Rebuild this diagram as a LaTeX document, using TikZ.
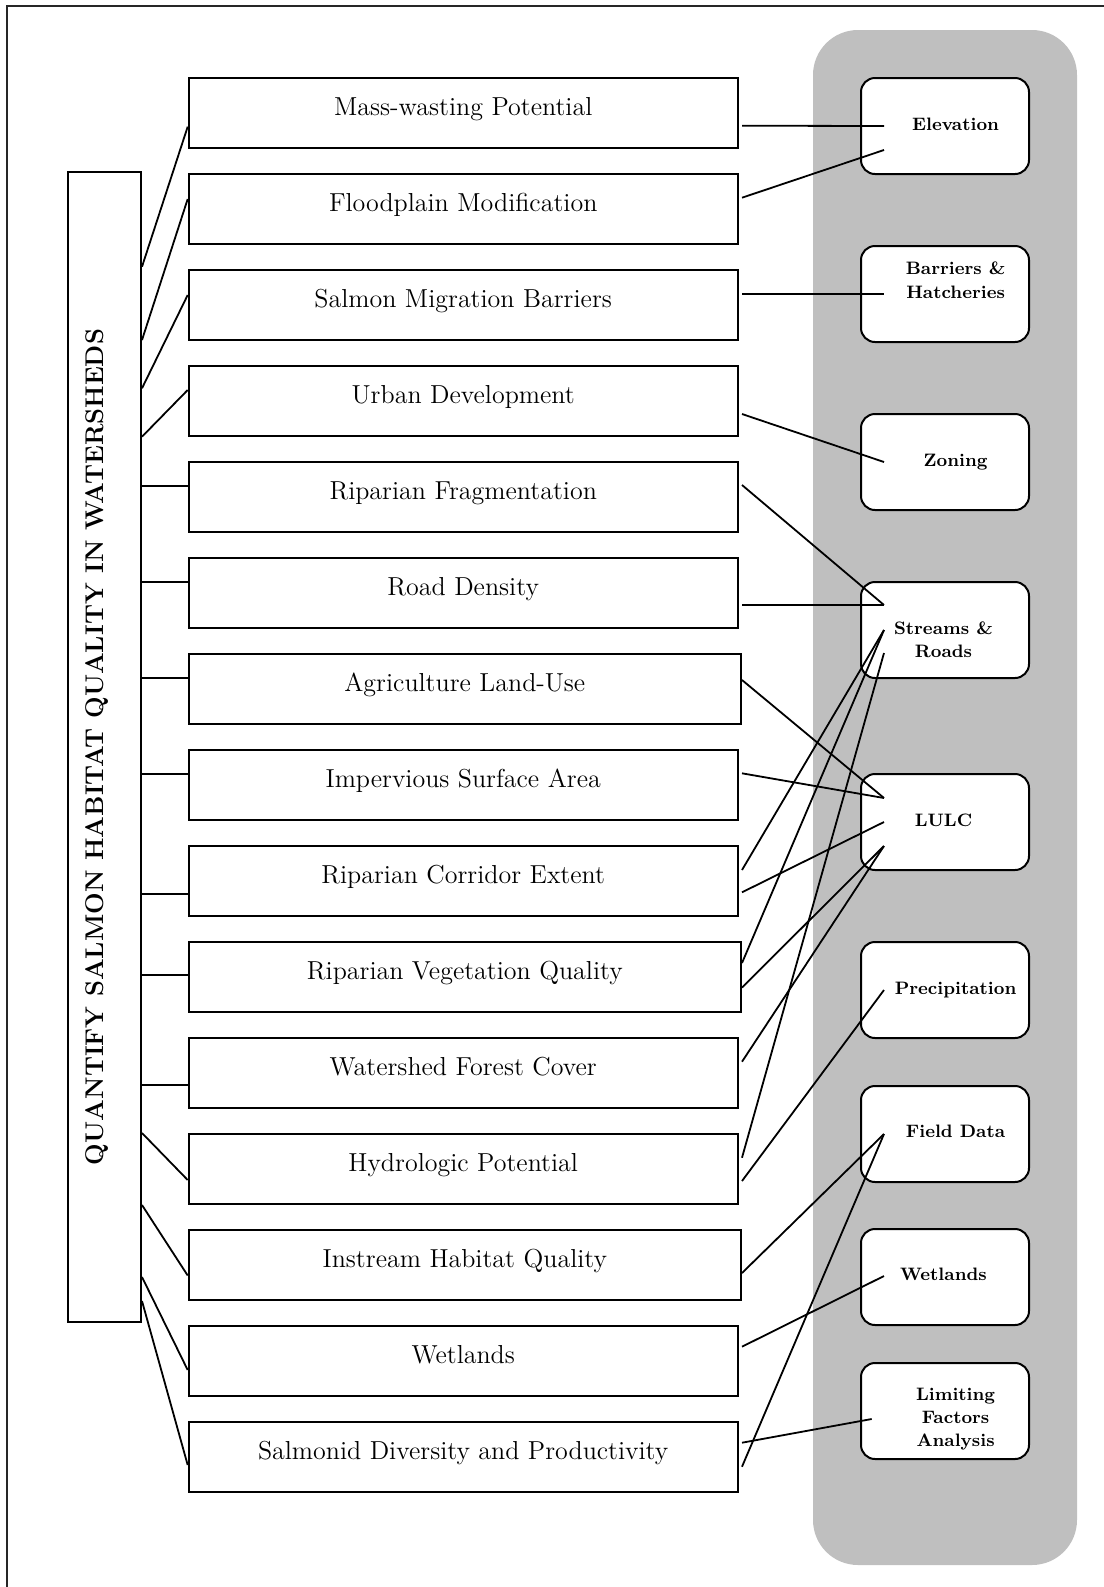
\documentclass[tikz,border=0pt]{standalone}
\usepackage{fontspec}
\usetikzlibrary{calc}
\begin{document}
\begin{tikzpicture}[x=0.5pt,y=-0.5pt,
  lbox/.style={draw, line width=1pt, fill=white, minimum width=274.5pt, minimum height=35pt, inner sep=0pt, text height=6pt, text depth=4pt, font=\fontsize{13}{15}\selectfont},
  lwide/.style={lbox, minimum width=276.15pt},
  rbox/.style={draw, line width=1pt, fill=white, rounded corners=7pt, minimum width=84pt, minimum height=48pt, inner sep=0pt},
  rtxt/.style={anchor=base, inner sep=0pt, font=\bfseries\fontsize{9}{11}\selectfont},
  conn/.style={line width=0.9pt}]
\useasboundingbox (0,0) rectangle (1104,1587);
% outer frame (extends past the page on the right and bottom)
\draw[line width=0.9pt, black!85] (6.7,6) rectangle (1130,1610);
% grey panel
\node[fill=black!25, rounded corners=22.5pt, minimum width=132pt, minimum height=767.5pt, inner sep=0pt] (panel) at (945,797.5) {};
% title column
\node[draw, line width=1pt, minimum width=36.35pt, minimum height=575pt, inner sep=0pt] (qt) at (104.65,747) {};
\node[rotate=90, anchor=base, inner sep=0pt, font=\bfseries\fontsize{12.8}{14}\selectfont] (qtt) at (104,747) {QUANTIFY SALMON HABITAT QUALITY IN WATERSHEDS};
% indicator boxes
\node[lbox]  (mw)  at (463.2,113)   {Mass-wasting Potential};
\node[lbox]  (fp)  at (463.2,209)   {Floodplain Modification};
\node[lbox]  (smb) at (463.2,305)   {Salmon Migration Barriers};
\node[lbox]  (ud)  at (463.2,401)   {Urban Development};
\node[lbox]  (rf)  at (463.2,497)   {Riparian Fragmentation};
\node[lbox]  (rd)  at (463.2,593)   {Road Density};
\node[lwide] (ag)  at (464.85,689)  {Agriculture Land-Use};
\node[lbox]  (is)  at (463.2,785)   {Impervious Surface Area};
\node[lbox]  (rc)  at (463.2,881)   {Riparian Corridor Extent};
\node[lwide] (rv)  at (464.85,977)  {Riparian Vegetation Quality};
\node[lbox]  (wf)  at (463.2,1073)  {Watershed Forest Cover};
\node[lbox]  (hp)  at (463.2,1169)  {Hydrologic Potential};
\node[lwide] (ih)  at (464.85,1265) {Instream Habitat Quality};
\node[lbox]  (wl)  at (463.2,1361)  {Wetlands};
\node[lbox]  (sd)  at (463.2,1457)  {Salmonid Diversity and Productivity};
% data boxes
\node[rbox] (elev) at (945,126)  {};
\node[rbox] (bh)   at (945,294)  {};
\node[rbox] (zon)  at (945,462)  {};
\node[rbox] (sr)   at (945,630)  {};
\node[rbox] (lulc) at (945,822)  {};
\node[rbox] (pr)   at (945,990)  {};
\node[rbox] (fd)   at (945,1134) {};
\node[rbox] (wet)  at (945,1277) {};
\node[rbox] (lfa)  at (945,1411) {};
% left connectors
\draw[conn] ($(qt.east)+(0,-480.3)$) -- ($(mw.west)+(0,13.7)$);
\draw[conn] ($(qt.east)+(0,-407)$)   -- ($(fp.west)+(0,-10)$);
\draw[conn] ($(qt.east)+(0,-358.7)$) -- ($(smb.west)+(0,-10)$);
\draw[conn] ($(qt.east)+(0,-310.3)$) -- ($(ud.west)+(0,-11)$);
\draw[conn] ($(qt.east)+(0,-261)$)   -- ($(rf.west)+(0,-11)$);
\draw[conn] ($(qt.east)+(0,-165)$)   -- ($(rd.west)+(0,-11)$);
\draw[conn] ($(qt.east)+(0,-69)$)    -- ($(ag.west)+(0,-11)$);
\draw[conn] ($(qt.east)+(0,27)$)     -- ($(is.west)+(0,-11)$);
\draw[conn] ($(qt.east)+(0,147)$)    -- ($(rc.west)+(0,13)$);
\draw[conn] ($(qt.east)+(0,228)$)    -- ($(rv.west)+(0,-2)$);
\draw[conn] ($(qt.east)+(0,338)$)    -- ($(wf.west)+(0,12)$);
\draw[conn] ($(qt.east)+(0,386)$)    -- ($(hp.west)+(0,11)$);
\draw[conn] ($(qt.east)+(0,458)$)    -- ($(ih.west)+(0,10.5)$);
\draw[conn] ($(qt.east)+(0,530)$)    -- ($(wl.west)+(0,9)$);
\draw[conn] ($(qt.east)+(0,554)$)    -- ($(sd.west)+(0,8)$);
% right connectors
\draw[conn] ($(mw.east)+(3.3,12.7)$)   -- ($(elev.west)+(24,0)$);
\draw[conn] ($(fp.east)+(3.3,-11.3)$)  -- ($(elev.west)+(24,24)$);
\draw[conn] ($(smb.east)+(3.3,-11)$)   -- ($(bh.west)+(24,0)$);
\draw[conn] ($(ud.east)+(3.3,13)$)     -- ($(zon.west)+(24,0)$);
\draw[conn] ($(rf.east)+(3.3,-12)$)    -- ($(sr.west)+(24,-25)$);
\draw[conn] ($(rd.east)+(3.3,12)$)     -- ($(sr.west)+(24,-25)$);
\draw[conn] ($(ag.east)+(0,-9)$)       -- ($(lulc.west)+(24,-24)$);
\draw[conn] ($(is.east)+(3.3,-11.7)$)  -- ($(lulc.west)+(24,-24)$);
\draw[conn] ($(rc.east)+(3.3,-11)$)    -- ($(sr.west)+(24,0)$);
\draw[conn] ($(rc.east)+(3.3,11.3)$)   -- ($(lulc.west)+(24,0)$);
\draw[conn] ($(rv.east)+(0,-14)$)      -- ($(sr.west)+(24,0)$);
\draw[conn] ($(rv.east)+(0,10.5)$)     -- ($(lulc.west)+(24,24)$);
\draw[conn] ($(wf.east)+(3.3,-11.3)$)  -- ($(lulc.west)+(24,24)$);
\draw[conn] ($(hp.east)+(3.3,-11.3)$)  -- ($(sr.west)+(24,23)$);
\draw[conn] ($(hp.east)+(3.3,12)$)     -- ($(pr.west)+(24,0)$);
\draw[conn] ($(ih.east)+(0,8)$)        -- ($(fd.west)+(24,0)$);
\draw[conn] ($(wl.east)+(3.3,-14.3)$)  -- ($(wet.west)+(24,-1)$);
\draw[conn] ($(sd.east)+(3.3,-14.3)$)  -- ($(lfa.west)+(11.7,8)$);
\draw[conn] ($(sd.east)+(3.3,9.7)$)    -- ($(fd.west)+(24,0)$);
% data box labels
\node[rtxt] (elevt) at (955.6,130)    {Elevation};
\node[rtxt] (bht1)  at (955.6,274)    {Barriers \&};
\node[rtxt] (bht2)  at (955.6,298.3)  {Hatcheries};
\node[rtxt] (zont)  at (955.6,466)    {Zoning};
\node[rtxt] (srt1)  at (943.5,634.3)  {Streams \&};
\node[rtxt] (srt2)  at (943.5,657.3)  {Roads};
\node[rtxt] (lulct) at (943.5,826.7)  {LULC};
\node[rtxt] (prt)   at (955.6,994)    {Precipitation};
\node[rtxt] (fdt)   at (955.6,1137.7) {Field Data};
\node[rtxt] (wett)  at (943.5,1280)   {Wetlands};
\node[rtxt] (lfat1) at (955.6,1400)   {Limiting};
\node[rtxt] (lfat2) at (955.6,1423.3) {Factors};
\node[rtxt] (lfat3) at (955.6,1446.7) {Analysis};
\end{tikzpicture}
\end{document}
